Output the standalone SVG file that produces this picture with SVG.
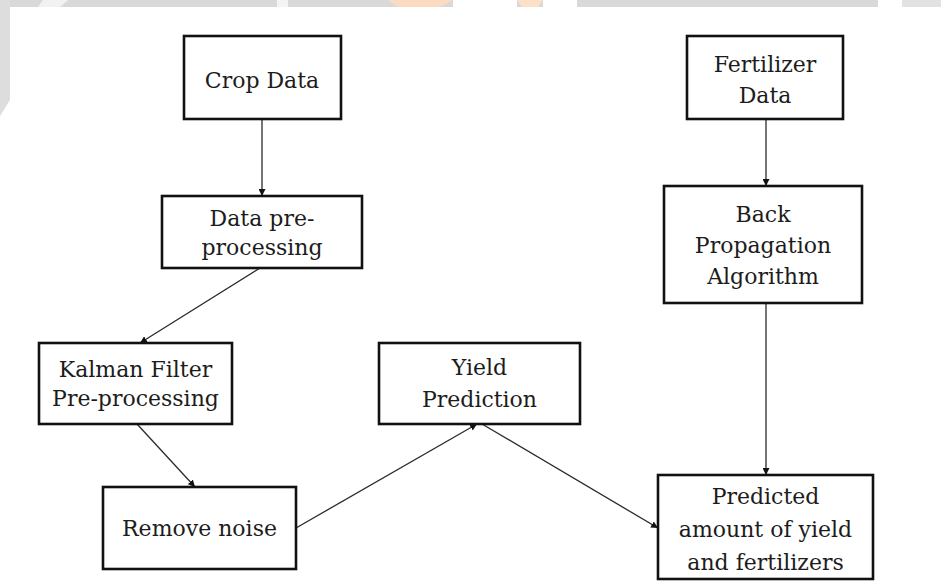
<svg xmlns="http://www.w3.org/2000/svg" width="941" height="581" viewBox="0 0 941 581">
  <style>
    .box { fill: #ffffff; stroke: #111111; stroke-width: 2.6; }
    .lbl { font-family: "DejaVu Serif", "Liberation Serif", serif; font-size: 22px; fill: #1c1c1c; text-anchor: middle; }
    .edge { fill: none; stroke: #2a2a2a; stroke-width: 1.3; }
  </style>
  <defs>
    <marker id="arr" viewBox="0 0 10 10" refX="10" refY="5" markerWidth="7" markerHeight="7" markerUnits="userSpaceOnUse" orient="auto">
      <path d="M0,0 L10,5 L0,10 Z" fill="#111111"/>
    </marker>
  </defs>
  <rect x="0" y="0" width="941" height="581" fill="#ffffff"/>
  <g id="background-band">
    <rect x="0" y="0" width="941" height="7" fill="#d9d9d9"/>
    <path d="M0,0 L10,0 L10,100 L0,116 Z" fill="#dddddd"/>
    <path d="M43,0 L68,0 L60,7 L38,7 Z" fill="#f2f2f2"/>
    <rect x="277" y="0" width="11" height="7" fill="#f4f4f4"/>
    <path d="M388,0 L453,0 L440,7 L398,7 Z" fill="#fbdcc2"/>
    <rect x="453" y="0" width="64" height="7" fill="#ffffff"/>
    <path d="M517,0 L543,0 L538,7 L522,7 Z" fill="#fce0c8"/>
    <rect x="543" y="0" width="34" height="7" fill="#ffffff"/>
    <rect x="878" y="0" width="24" height="7" fill="#ffffff"/>
    <rect x="902" y="0" width="39" height="7" fill="#e2e2e2"/>
  </g>
  <g id="connectors">
    <line class="edge" x1="262" y1="119" x2="262" y2="196" marker-end="url(#arr)"/>
    <line class="edge" x1="766" y1="119" x2="766" y2="186" marker-end="url(#arr)"/>
    <line class="edge" x1="260" y1="268" x2="140" y2="343" marker-end="url(#arr)"/>
    <line class="edge" x1="137" y1="424" x2="195" y2="487" marker-end="url(#arr)"/>
    <line class="edge" x1="296" y1="528" x2="477" y2="424" marker-end="url(#arr)"/>
    <line class="edge" x1="482" y1="424" x2="658" y2="528" marker-end="url(#arr)"/>
    <line class="edge" x1="766" y1="303" x2="766" y2="475" marker-end="url(#arr)"/>
  </g>
  <g id="crop-data">
    <rect class="box" x="184" y="36" width="157" height="83"/>
    <text class="lbl" x="262" y="88">Crop Data</text>
  </g>
  <g id="data-preprocessing">
    <rect class="box" x="162" y="196" width="200" height="72"/>
    <text class="lbl" x="262" y="226">Data pre-</text>
    <text class="lbl" x="262" y="255">processing</text>
  </g>
  <g id="fertilizer-data">
    <rect class="box" x="687" y="36" width="156" height="83"/>
    <text class="lbl" x="765" y="72">Fertilizer</text>
    <text class="lbl" x="765" y="103">Data</text>
  </g>
  <g id="back-propagation">
    <rect class="box" x="664" y="186" width="198" height="117"/>
    <text class="lbl" x="763" y="222">Back</text>
    <text class="lbl" x="763" y="253">Propagation</text>
    <text class="lbl" x="763" y="284">Algorithm</text>
  </g>
  <g id="kalman-filter">
    <rect class="box" x="39" y="343" width="193" height="81"/>
    <text class="lbl" x="135.5" y="377">Kalman Filter</text>
    <text class="lbl" x="135.5" y="406">Pre-processing</text>
  </g>
  <g id="remove-noise">
    <rect class="box" x="103" y="487" width="193" height="82"/>
    <text class="lbl" x="199.5" y="536">Remove noise</text>
  </g>
  <g id="yield-prediction">
    <rect class="box" x="379" y="343" width="201" height="81"/>
    <text class="lbl" x="479.5" y="375">Yield</text>
    <text class="lbl" x="479.5" y="407">Prediction</text>
  </g>
  <g id="predicted-amount">
    <rect class="box" x="658" y="475" width="215" height="104"/>
    <text class="lbl" x="765.5" y="504">Predicted</text>
    <text class="lbl" x="765.5" y="537">amount of yield</text>
    <text class="lbl" x="765.5" y="570">and fertilizers</text>
  </g>
</svg>
